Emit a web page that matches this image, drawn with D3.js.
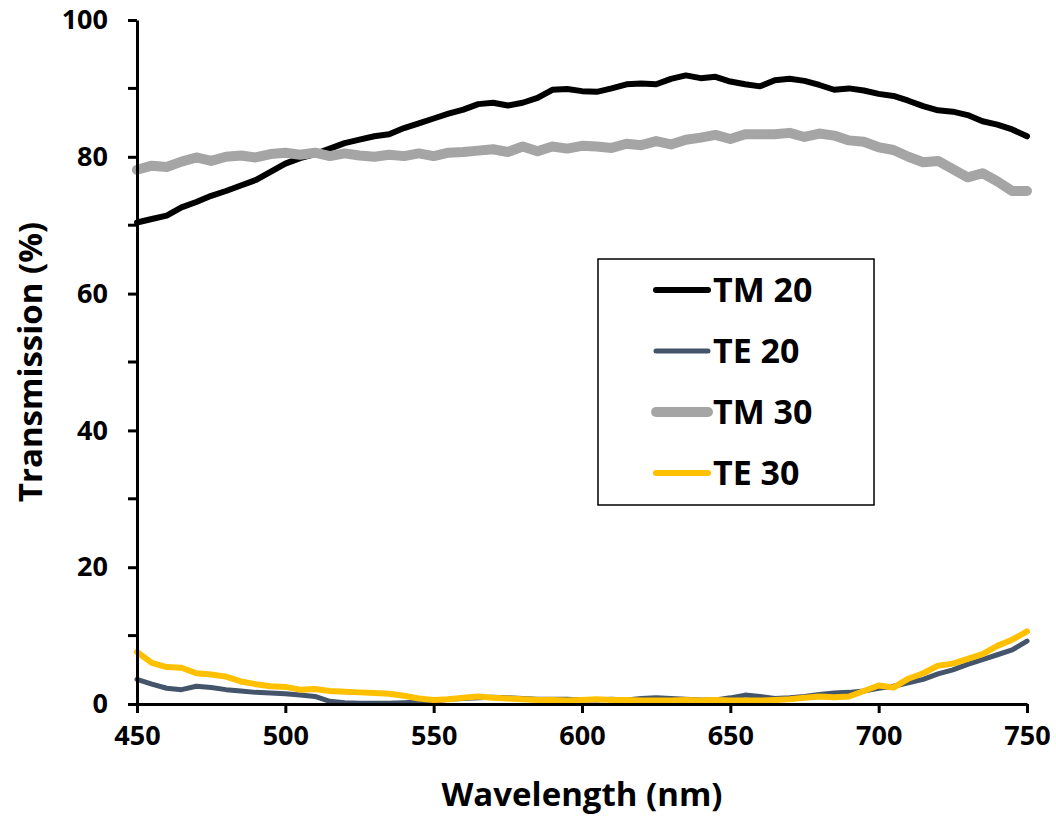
<!DOCTYPE html>
<html>
<head>
<meta charset="utf-8">
<script src="https://cdn.jsdelivr.net/npm/d3@7"></script>
<style>
  html, body { margin: 0; padding: 0; background: #fff; }
  svg { display: block; font-family: "Open Sans", "Noto Sans", sans-serif; font-weight: bold; }
</style>
</head>
<body>
<svg id="chart" width="1056" height="818"></svg>
<script>
// Wavelength grid (nm)
const wavelengths = d3.range(450, 750.1, 5);

// Transmission (%) per polarisation / sample
const tm20 = [70.4, 70.9, 71.4, 72.6, 73.4, 74.3, 75.0, 75.8, 76.6, 77.8,
  79.0, 79.8, 80.4, 81.2, 82.0, 82.5, 83.0, 83.3, 84.2, 84.9,
  85.6, 86.3, 86.9, 87.7, 87.9, 87.5, 87.9, 88.6, 89.8, 89.9,
  89.6, 89.5, 90.0, 90.6, 90.7, 90.6, 91.4, 91.9, 91.5, 91.7,
  91.0, 90.6, 90.3, 91.2, 91.4, 91.1, 90.5, 89.8, 90.0, 89.7,
  89.2, 88.9, 88.2, 87.4, 86.8, 86.6, 86.1, 85.2, 84.7, 84.0, 83.0];

const te20 = [3.6, 2.9, 2.3, 2.1, 2.6, 2.4, 2.1, 1.9, 1.7, 1.6,
  1.5, 1.3, 1.1, 0.4, 0.2, 0.1, 0.1, 0.1, 0.2, 0.3,
  0.4, 0.7, 0.8, 0.9, 1.0, 0.9, 0.8, 0.7, 0.7, 0.7,
  0.6, 0.6, 0.7, 0.6, 0.8, 0.9, 0.8, 0.7, 0.6, 0.6,
  0.9, 1.3, 1.1, 0.8, 0.9, 1.1, 1.4, 1.6, 1.7, 1.9,
  2.3, 2.6, 3.1, 3.6, 4.4, 5.0, 5.8, 6.5, 7.2, 7.9, 9.2];

const tm30 = [78.1, 78.7, 78.5, 79.3, 79.9, 79.4, 80.0, 80.2, 79.9, 80.4,
  80.6, 80.3, 80.6, 80.1, 80.5, 80.2, 80.0, 80.3, 80.1, 80.5,
  80.1, 80.6, 80.7, 80.9, 81.1, 80.7, 81.5, 80.8, 81.5, 81.2,
  81.6, 81.5, 81.3, 81.9, 81.7, 82.3, 81.8, 82.5, 82.8, 83.2,
  82.6, 83.3, 83.3, 83.3, 83.5, 82.9, 83.4, 83.1, 82.4, 82.2,
  81.4, 81.0, 80.0, 79.2, 79.4, 78.2, 77.0, 77.6, 76.4, 75.0, 75.0];

const te30 = [7.6, 6.0, 5.4, 5.3, 4.5, 4.3, 4.0, 3.3, 2.9, 2.6,
  2.5, 2.1, 2.2, 1.9, 1.8, 1.7, 1.6, 1.5, 1.2, 0.8,
  0.6, 0.7, 0.9, 1.1, 0.9, 0.8, 0.7, 0.6, 0.6, 0.5,
  0.6, 0.7, 0.6, 0.6, 0.5, 0.5, 0.5, 0.6, 0.5, 0.6,
  0.5, 0.5, 0.5, 0.6, 0.7, 0.9, 1.1, 1.0, 1.1, 1.9,
  2.7, 2.4, 3.7, 4.5, 5.6, 5.9, 6.6, 7.3, 8.5, 9.4, 10.6];

const seriesNames = ["TM 20", "TE 20", "TM 30", "TE 30"];
const seriesValues = [tm20, te20, tm30, te30];
const seriesColors = ["#000000", "#44546A", "#A5A5A5", "#FFC000"];
const seriesWidths = [6, 5, 10, 6];

const xTicks = [450, 500, 550, 600, 650, 700, 750];
const yTicks = [0, 20, 40, 60, 80, 100];
const yMinorTicks = [10, 30, 50, 70, 90];

const svg = d3.select("#chart");
const plotLeft = 137, plotRight = 1027, plotTop = 20, plotBottom = 704;

const x = d3.scaleLinear().domain([450, 750]).range([plotLeft, plotRight]);
const y = d3.scaleLinear().domain([0, 100]).range([plotBottom, plotTop]);

// Series lines
const line = d3.line()
  .x(d => x(d[0]))
  .y(d => y(d[1]))
  .curve(d3.curveLinear);

seriesValues.forEach((vals, i) => {
  const pts = wavelengths.map((w, k) => [w, vals[k]]);
  svg.append("path")
    .datum(pts)
    .attr("fill", "none")
    .attr("stroke", seriesColors[i])
    .attr("stroke-width", seriesWidths[i])
    .attr("stroke-linejoin", "round")
    .attr("stroke-linecap", "round")
    .attr("d", line);
});

// X axis
const xAxis = svg.append("g")
  .attr("transform", `translate(0,${plotBottom})`)
  .call(d3.axisBottom(x).tickValues(xTicks).tickSize(9).tickPadding(13).tickSizeOuter(0));
xAxis.select(".domain").attr("stroke", "#000").attr("stroke-width", 3);
xAxis.selectAll(".tick line").attr("stroke", "#000").attr("stroke-width", 3);
xAxis.selectAll(".tick text").attr("font-size", 27).attr("font-family", "Open Sans").attr("font-weight", "bold").attr("fill", "#000");

// Y axis
const yAxis = svg.append("g")
  .attr("transform", `translate(${plotLeft},0)`)
  .call(d3.axisLeft(y).tickValues(yTicks).tickSize(9).tickPadding(20).tickSizeOuter(0));
yAxis.select(".domain").attr("stroke", "#000").attr("stroke-width", 3);
yAxis.selectAll(".tick line").attr("stroke", "#000").attr("stroke-width", 3);
yAxis.selectAll(".tick text").attr("font-size", 27).attr("font-family", "Open Sans").attr("font-weight", "bold").attr("fill", "#000");

// Minor y ticks
svg.append("g")
  .selectAll("line")
  .data(yMinorTicks)
  .join("line")
  .attr("x1", plotLeft - 9).attr("x2", plotLeft)
  .attr("y1", d => y(d)).attr("y2", d => y(d))
  .attr("stroke", "#000").attr("stroke-width", 3);

// Axis titles
svg.append("text")
  .attr("x", (plotLeft + plotRight) / 2)
  .attr("y", 806)
  .attr("text-anchor", "middle")
  .attr("font-size", 33)
  .text("Wavelength (nm)");

svg.append("text")
  .attr("transform", `translate(42,${(plotTop + plotBottom) / 2}) rotate(-90)`)
  .attr("text-anchor", "middle")
  .attr("font-size", 33)
  .text("Transmission (%)");

// Legend
const legend = svg.append("g");
legend.append("rect")
  .attr("x", 598).attr("y", 259)
  .attr("width", 276).attr("height", 246)
  .attr("fill", "#fff").attr("stroke", "#000").attr("stroke-width", 1.5);

const legendRows = [290, 351, 412, 473];
seriesNames.forEach((name, i) => {
  legend.append("line")
    .attr("x1", 656).attr("x2", 708)
    .attr("y1", legendRows[i]).attr("y2", legendRows[i])
    .attr("stroke", seriesColors[i])
    .attr("stroke-width", seriesWidths[i])
    .attr("stroke-linecap", "round");
  legend.append("text")
    .attr("x", 713)
    .attr("y", legendRows[i])
    .attr("dy", "0.35em")
    .attr("font-size", 34)
    .text(name);
});
</script>
</body>
</html>
